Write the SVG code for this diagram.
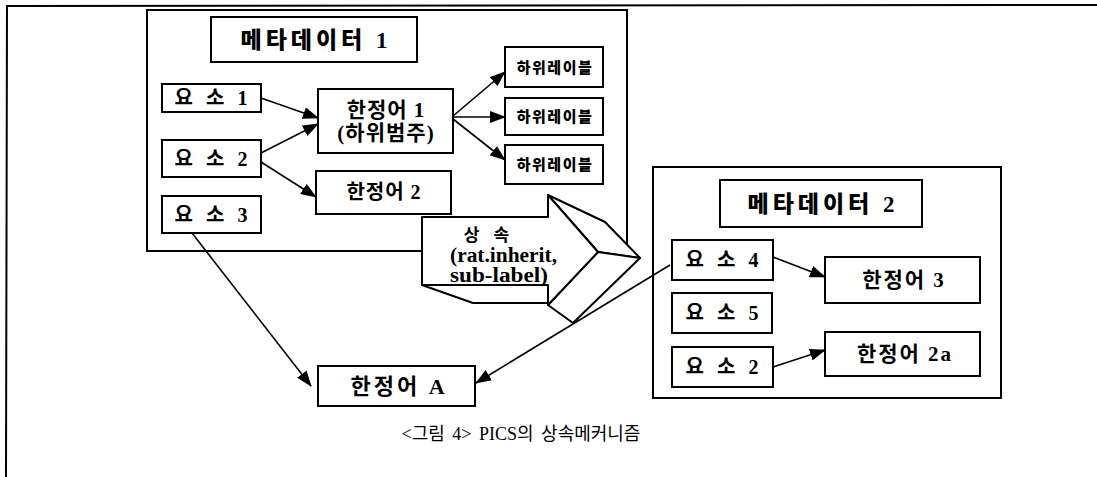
<svg xmlns="http://www.w3.org/2000/svg" width="1097" height="477" viewBox="0 0 1097 477">
<style>
.box{fill:#fff;stroke:#000;stroke-width:2}
.cont{fill:none;stroke:#000;stroke-width:2}
.ln{fill:none;stroke:#000;stroke-width:1.6}
.t{font-family:"Liberation Serif","Noto Sans CJK KR",serif;font-weight:bold;fill:#000;text-anchor:middle}
.k{font-size:20px;letter-spacing:4px}
.q{font-size:21px;letter-spacing:2px}
.sub{font-size:15px;letter-spacing:1.5px;font-family:"Noto Sans CJK KR",sans-serif;font-weight:900}
.title{font-size:23px;letter-spacing:4px;font-weight:900}
.cap{font-family:"Liberation Serif","Noto Sans CJK KR",serif;font-size:18px;fill:#000;text-anchor:middle;word-spacing:3px}
.arw{fill:#fff;stroke:#000;stroke-width:2;stroke-linejoin:round}
.lbl{font-family:"Liberation Serif",serif;font-size:20px;font-weight:bold;fill:#000}
</style>
<defs>
<marker id="ah" markerUnits="userSpaceOnUse" markerWidth="16" markerHeight="12" refX="15" refY="6" orient="auto">
<path d="M0,0 L16,6 L0,12 Z" fill="#000"/>
</marker>
</defs>
<rect width="1097" height="477" fill="#fff"/>
<g id="frame">
<path class="cont" d="M6,477 L7,6 L1097,5"/>
</g>
<g id="metadata1">
<rect class="cont" x="147" y="10" width="480" height="241"/>
</g>
<g id="metadata2">
<rect class="cont" x="653" y="167" width="348" height="231"/>
</g>
<g id="title1"><rect class="box" x="211" y="17" width="206" height="45"/><text class="t title" x="316" y="48">메타데이터 1</text></g>
<g id="elem1"><rect class="box" x="162" y="84" width="99" height="28"/><text class="t k" x="213" y="105">요 소 1</text></g>
<g id="elem2"><rect class="box" x="162" y="140" width="99" height="37"/><text class="t k" x="213" y="166">요 소 2</text></g>
<g id="elem3"><rect class="box" x="162" y="196" width="99" height="37"/><text class="t k" x="213" y="222">요 소 3</text></g>
<g id="qual1"><rect class="box" x="318" y="89" width="135" height="64"/><text class="t" style="font-size:21px;letter-spacing:1px" x="386" y="117">한정어 1</text><text class="t" style="font-size:21px;letter-spacing:1px" x="386" y="140">(하위범주)</text></g>
<g id="qual2"><rect class="box" x="316" y="171" width="135" height="43"/><text class="t" style="font-size:20px;letter-spacing:1px" x="384" y="199">한정어 2</text></g>
<g id="sub1"><rect class="box" x="505" y="47" width="98" height="40"/><text class="t sub" x="555" y="73">하위레이블</text></g>
<g id="sub2"><rect class="box" x="505" y="98" width="98" height="37"/><text class="t sub" x="555" y="122">하위레이블</text></g>
<g id="sub3"><rect class="box" x="505" y="145" width="98" height="39"/><text class="t sub" x="555" y="170">하위레이블</text></g>
<g id="title2"><rect class="box" x="720" y="180" width="202" height="47"/><text class="t title" x="823" y="212">메타데이터 2</text></g>
<g id="elem4"><rect class="box" x="672" y="240" width="101" height="40"/><text class="t k" x="724" y="267">요 소 4</text></g>
<g id="elem5"><rect class="box" x="672" y="293" width="100" height="40"/><text class="t k" x="724" y="320">요 소 5</text></g>
<g id="elem2b"><rect class="box" x="672" y="347" width="101" height="40"/><text class="t k" x="724" y="374">요 소 2</text></g>
<g id="qual3"><rect class="box" x="825" y="257" width="155" height="46"/><text class="t q" x="904" y="287">한정어 3</text></g>
<g id="qual2a"><rect class="box" x="825" y="332" width="155" height="44"/><text class="t q" x="905" y="361">한정어 2a</text></g>
<g id="qualA"><rect class="box" x="318" y="366" width="157" height="40"/><text class="t" style="font-size:22px;letter-spacing:3px" x="399" y="394">한정어 A</text></g>
<g id="inherit">
<polygon class="arw" points="548,195 605,222 640,258 598,252"/>
<polygon class="arw" points="598,252 640,258 573,323 548,305"/>
<polygon class="arw" points="422,285 473,303 548,303 548,285"/>
<polygon class="arw" points="422,217 548,217 548,195 598,252 548,305 548,285 422,285"/>
<text class="t" style="font-size:17px;letter-spacing:5px" x="489" y="241">상 속</text>
<text class="lbl" x="450" y="262" textLength="107" lengthAdjust="spacingAndGlyphs">(rat.inherit,</text>
<text class="lbl" x="450" y="282" textLength="98" lengthAdjust="spacingAndGlyphs">sub-label)</text>
</g>
<g id="connectors">
<line class="ln" x1="261" y1="98" x2="318" y2="118" marker-end="url(#ah)"/>
<line class="ln" x1="261" y1="153" x2="318" y2="124" marker-end="url(#ah)"/>
<line class="ln" x1="261" y1="162" x2="316" y2="197" marker-end="url(#ah)"/>
<line class="ln" x1="453" y1="116" x2="505" y2="72" marker-end="url(#ah)"/>
<line class="ln" x1="453" y1="117" x2="505" y2="117" marker-end="url(#ah)"/>
<line class="ln" x1="453" y1="119" x2="505" y2="160" marker-end="url(#ah)"/>
<line class="ln" x1="192" y1="233" x2="311" y2="386" marker-end="url(#ah)"/>
<line class="ln" x1="670" y1="265" x2="476" y2="383" marker-end="url(#ah)"/>
<line class="ln" x1="773" y1="257" x2="825" y2="277" marker-end="url(#ah)"/>
<line class="ln" x1="773" y1="367" x2="825" y2="350" marker-end="url(#ah)"/>
</g>
<text class="cap" x="521" y="440">&lt;그림 4&gt; PICS의 상속메커니즘</text>
</svg>
